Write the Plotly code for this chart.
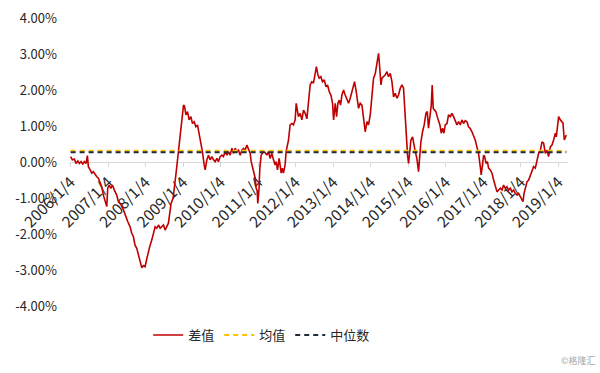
import plotly.graph_objects as go

dates = [
"2006-01-04","2006-01-21","2006-02-10","2006-02-26","2006-03-15","2006-03-30","2006-04-16","2006-05-02",
"2006-05-18","2006-06-04","2006-06-16","2006-06-26","2006-07-13","2006-07-29","2006-08-14","2006-08-30",
"2006-09-16","2006-10-01","2006-10-18","2006-11-03","2006-11-19","2006-12-06","2006-12-22","2006-12-31",
"2007-01-14","2007-01-30","2007-02-15","2007-03-06","2007-03-29","2007-04-14","2007-05-10","2007-06-02",
"2007-06-25","2007-07-15","2007-08-06","2007-08-22","2007-09-07","2007-09-23","2007-10-10","2007-10-26",
"2007-11-11","2007-11-28","2007-12-13","2007-12-30","2008-01-16","2008-01-31","2008-02-17","2008-03-04",
"2008-03-20","2008-04-06","2008-04-22","2008-05-08","2008-05-25","2008-06-10","2008-06-26","2008-07-12",
"2008-08-13","2008-09-08","2008-09-28","2008-10-28","2008-11-19","2008-12-06","2008-12-22","2009-01-07",
"2009-01-17","2009-01-30","2009-02-15","2009-03-03","2009-03-20","2009-04-04","2009-04-21","2009-05-07",
"2009-05-23","2009-06-08","2009-06-25","2009-07-10","2009-07-27","2009-08-06","2009-08-22","2009-09-07",
"2009-09-23","2009-10-10","2009-10-26","2009-11-11","2009-11-28","2009-12-13","2009-12-30","2010-01-16",
"2010-01-31","2010-02-17","2010-03-05","2010-03-21","2010-04-06","2010-04-23","2010-05-08","2010-05-25",
"2010-06-10","2010-06-26","2010-07-13","2010-07-29","2010-08-14","2010-08-30","2010-09-16","2010-10-01",
"2010-10-18","2010-10-28","2010-11-09","2010-11-23","2010-12-06","2010-12-15","2010-12-25","2010-12-31",
"2011-01-11","2011-01-20","2011-02-02","2011-02-24","2011-03-13","2011-03-29","2011-04-14","2011-04-30",
"2011-05-17","2011-06-02","2011-06-18","2011-06-28","2011-07-11","2011-07-27","2011-08-06","2011-08-16",
"2011-08-28","2011-09-07","2011-09-23","2011-10-03","2011-10-16","2011-10-26","2011-11-11","2011-11-28",
"2011-12-13","2011-12-30","2012-01-09","2012-01-19","2012-01-31","2012-02-17","2012-03-04","2012-03-20",
"2012-04-06","2012-04-22","2012-05-08","2012-05-24","2012-06-09","2012-06-25","2012-07-12","2012-07-24",
"2012-08-07","2012-08-20","2012-09-05","2012-09-21","2012-10-08","2012-10-25","2012-11-09","2012-11-26",
"2012-12-12","2012-12-28","2013-01-07","2013-01-23","2013-02-05","2013-02-18","2013-03-03","2013-03-16",
"2013-03-29","2013-04-14","2013-04-30","2013-05-17","2013-06-02","2013-06-18","2013-07-05","2013-07-20",
"2013-07-30","2013-08-13","2013-08-25","2013-09-07","2013-09-23","2013-10-10","2013-10-26","2013-11-11",
"2013-11-28","2013-12-13","2013-12-30","2014-01-16","2014-01-31","2014-02-17","2014-03-05","2014-03-21",
"2014-03-30","2014-04-13","2014-04-23","2014-05-08","2014-05-25","2014-06-10","2014-06-26","2014-07-13",
"2014-07-29","2014-08-14","2014-08-30","2014-09-16","2014-10-01","2014-10-18","2014-11-03","2014-11-19",
"2014-11-29","2014-12-08","2014-12-18","2014-12-28","2015-01-07","2015-01-17","2015-01-30","2015-02-15",
"2015-02-28","2015-03-13","2015-03-29","2015-04-14","2015-04-24","2015-05-07","2015-05-23","2015-06-08",
"2015-06-25","2015-07-08","2015-07-20","2015-08-03","2015-08-16","2015-08-25","2015-09-04","2015-09-17",
"2015-09-30","2015-10-13","2015-10-26","2015-11-08","2015-11-21","2015-12-04","2015-12-17","2015-12-30",
"2016-01-16","2016-01-31","2016-02-17","2016-03-04","2016-03-20","2016-04-06","2016-04-22","2016-05-08",
"2016-05-24","2016-06-09","2016-06-25","2016-07-12","2016-07-28","2016-08-13","2016-08-29","2016-09-15",
"2016-09-30","2016-10-17","2016-11-02","2016-11-18","2016-12-05","2016-12-14","2016-12-24","2017-01-07",
"2017-01-17","2017-01-30","2017-02-12","2017-02-24","2017-03-13","2017-03-29","2017-04-14","2017-04-30",
"2017-05-17","2017-06-02","2017-06-18","2017-07-05","2017-07-20","2017-08-06","2017-08-22","2017-09-07",
"2017-09-23","2017-10-10","2017-10-26","2017-11-11","2017-11-28","2017-12-13","2017-12-30","2018-01-16",
"2018-01-25","2018-02-04","2018-02-17","2018-03-05","2018-03-21","2018-04-06","2018-04-23","2018-05-08",
"2018-05-25","2018-06-10","2018-06-26","2018-07-13","2018-07-29","2018-08-14","2018-08-30","2018-09-16",
"2018-10-01","2018-10-18","2018-11-03","2018-11-19","2018-12-06","2018-12-15","2018-12-25","2019-01-07",
"2019-01-23","2019-02-09","2019-02-18","2019-03-03","2019-03-13","2019-03-23",
]

diff_values = [
0.15,0.06,0.08,-0.04,0.03,-0.04,0.01,-0.06,
0.01,-0.04,0.18,-0.13,-0.22,-0.31,-0.27,-0.36,
-0.41,-0.45,-0.55,-0.69,-0.92,-1.10,-1.24,-0.73,
-0.64,-0.73,-0.64,-0.78,-0.92,-1.10,-1.19,-1.33,
-1.52,-1.66,-1.80,-1.98,-2.07,-2.31,-2.40,-2.58,
-2.77,-2.94,-2.88,-2.91,-2.68,-2.49,-2.31,-2.17,
-1.94,-1.80,-1.84,-1.75,-1.84,-1.80,-1.75,-1.89,
-1.70,-1.15,-1.00,-0.27,0.29,0.75,1.21,1.58,
1.55,1.31,1.40,1.17,1.26,1.07,1.12,0.98,
1.03,0.80,0.56,0.29,-0.08,-0.22,0.06,0.19,
0.06,0.15,0.06,0.01,0.10,0.01,0.15,0.19,
0.15,0.29,0.19,0.29,0.19,0.38,0.24,0.38,
0.29,0.33,0.19,0.33,0.38,0.33,0.47,0.38,
0.24,0.01,-0.13,-0.31,-0.45,-0.73,-0.80,-1.15,
-0.80,-0.17,0.19,0.29,0.26,0.19,0.29,0.10,
0.24,0.06,-0.08,0.01,-0.22,0.10,-0.10,-0.31,
-0.17,-0.31,-0.08,0.29,0.47,0.61,1.03,1.07,
1.03,1.17,1.63,1.40,1.26,1.35,1.17,1.44,
1.35,1.20,1.68,2.14,2.23,2.19,2.46,2.65,
2.42,2.33,2.37,2.23,2.28,2.09,2.14,1.95,
1.86,1.63,1.17,1.63,1.26,1.63,1.72,1.58,
1.86,2.00,1.86,1.72,1.63,1.77,1.95,2.14,
2.23,2.00,1.77,1.49,1.63,1.58,1.21,0.84,
1.12,1.03,1.31,1.77,2.33,2.46,2.79,3.02,
2.70,2.14,2.33,2.37,2.42,2.51,2.37,2.46,
2.23,1.81,1.91,1.77,1.86,2.05,2.14,2.05,
1.58,0.94,0.47,0.19,-0.04,0.29,0.61,0.70,
0.47,0.29,0.10,-0.27,0.10,0.56,0.84,1.03,
1.35,1.40,0.94,1.21,1.58,2.14,1.49,1.44,
1.40,1.26,1.17,1.03,0.80,0.94,0.80,1.03,
1.07,1.31,1.26,1.35,1.26,1.12,1.03,1.12,
1.03,1.17,1.07,1.15,1.12,0.98,0.93,0.84,
0.75,0.61,0.42,0.24,-0.13,-0.36,-0.13,0.19,
0.15,-0.04,0.01,-0.17,-0.22,-0.31,-0.50,-0.64,
-0.83,-0.78,-0.73,-0.78,-0.64,-0.73,-0.69,-0.78,
-0.73,-0.83,-0.78,-0.87,-0.92,-0.87,-0.96,-1.01,
-1.10,-0.87,-0.69,-0.55,-0.50,-0.36,-0.27,-0.13,
-0.17,0.06,0.24,0.33,0.56,0.52,0.24,0.33,
0.15,0.42,0.47,0.61,0.80,0.70,0.94,1.26,
1.17,1.12,1.08,0.61,0.70,0.75,
]

mean_value = 0.31
median_value = 0.27

tick_dates = ["2006-01-04","2007-01-04","2008-01-04","2009-01-04","2010-01-04","2011-01-04","2012-01-04",
              "2013-01-04","2014-01-04","2015-01-04","2016-01-04","2017-01-04","2018-01-04","2019-01-04"]
tick_labels = ["2006/1/4","2007/1/4","2008/1/4","2009/1/4","2010/1/4","2011/1/4","2012/1/4",
               "2013/1/4","2014/1/4","2015/1/4","2016/1/4","2017/1/4","2018/1/4","2019/1/4"]
y_ticks = [4, 3, 2, 1, 0, -1, -2, -3, -4]
y_tick_labels = ["4.00%","3.00%","2.00%","1.00%","0.00%","-1.00%","-2.00%","-3.00%","-4.00%"]

FONT = "Noto Sans CJK SC"

fig = go.Figure()
fig.add_trace(go.Scatter(x=dates, y=diff_values, mode="lines", name="差值",
                         line=dict(color="#C00000", width=1.6)))
fig.add_trace(go.Scatter(x=dates, y=[mean_value] * len(dates), mode="lines", name="均值",
                         line=dict(color="#FFC000", width=2, dash="5px,4px")))
fig.add_trace(go.Scatter(x=dates, y=[median_value] * len(dates), mode="lines", name="中位数",
                         line=dict(color="#1F2A3A", width=2, dash="5px,4px")))

fig.update_layout(
    width=600, height=373,
    margin=dict(l=70, r=32, t=18, b=67),
    paper_bgcolor="white", plot_bgcolor="white",
    font=dict(family=FONT, size=14, color="#262626"),
    showlegend=True,
    legend=dict(orientation="h", x=0.157, xanchor="left", y=-0.049, yanchor="top",
                font=dict(size=13, color="#262626"), bgcolor="rgba(0,0,0,0)"),
    xaxis=dict(type="date", range=["2005-12-29", "2019-04-08"],
               tickmode="array", tickvals=tick_dates, ticktext=tick_labels,
               tickangle=-45, showgrid=False, zeroline=False,
               showline=True, linecolor="#D9D9D9", linewidth=1,
               ticks="outside", ticklen=4, tickcolor="#D9D9D9",
               anchor="free", position=0.5, automargin=False, layer="below traces",
               tickfont=dict(size=15.5, color="#262626")),
    yaxis=dict(range=[-4, 4], tickmode="array", tickvals=y_ticks, ticktext=y_tick_labels,
               showgrid=False, zeroline=False,
               showline=False, ticks="", ticklabelstandoff=12, automargin=False,
               tickfont=dict(size=13, color="#262626")),
)

fig.add_annotation(text="©格隆汇", xref="paper", yref="paper", x=1.06, y=-0.19,
                   xanchor="right", yanchor="middle", showarrow=False,
                   font=dict(size=9, color="#A6A6A6", family=FONT))

fig.write_html("out.html")
